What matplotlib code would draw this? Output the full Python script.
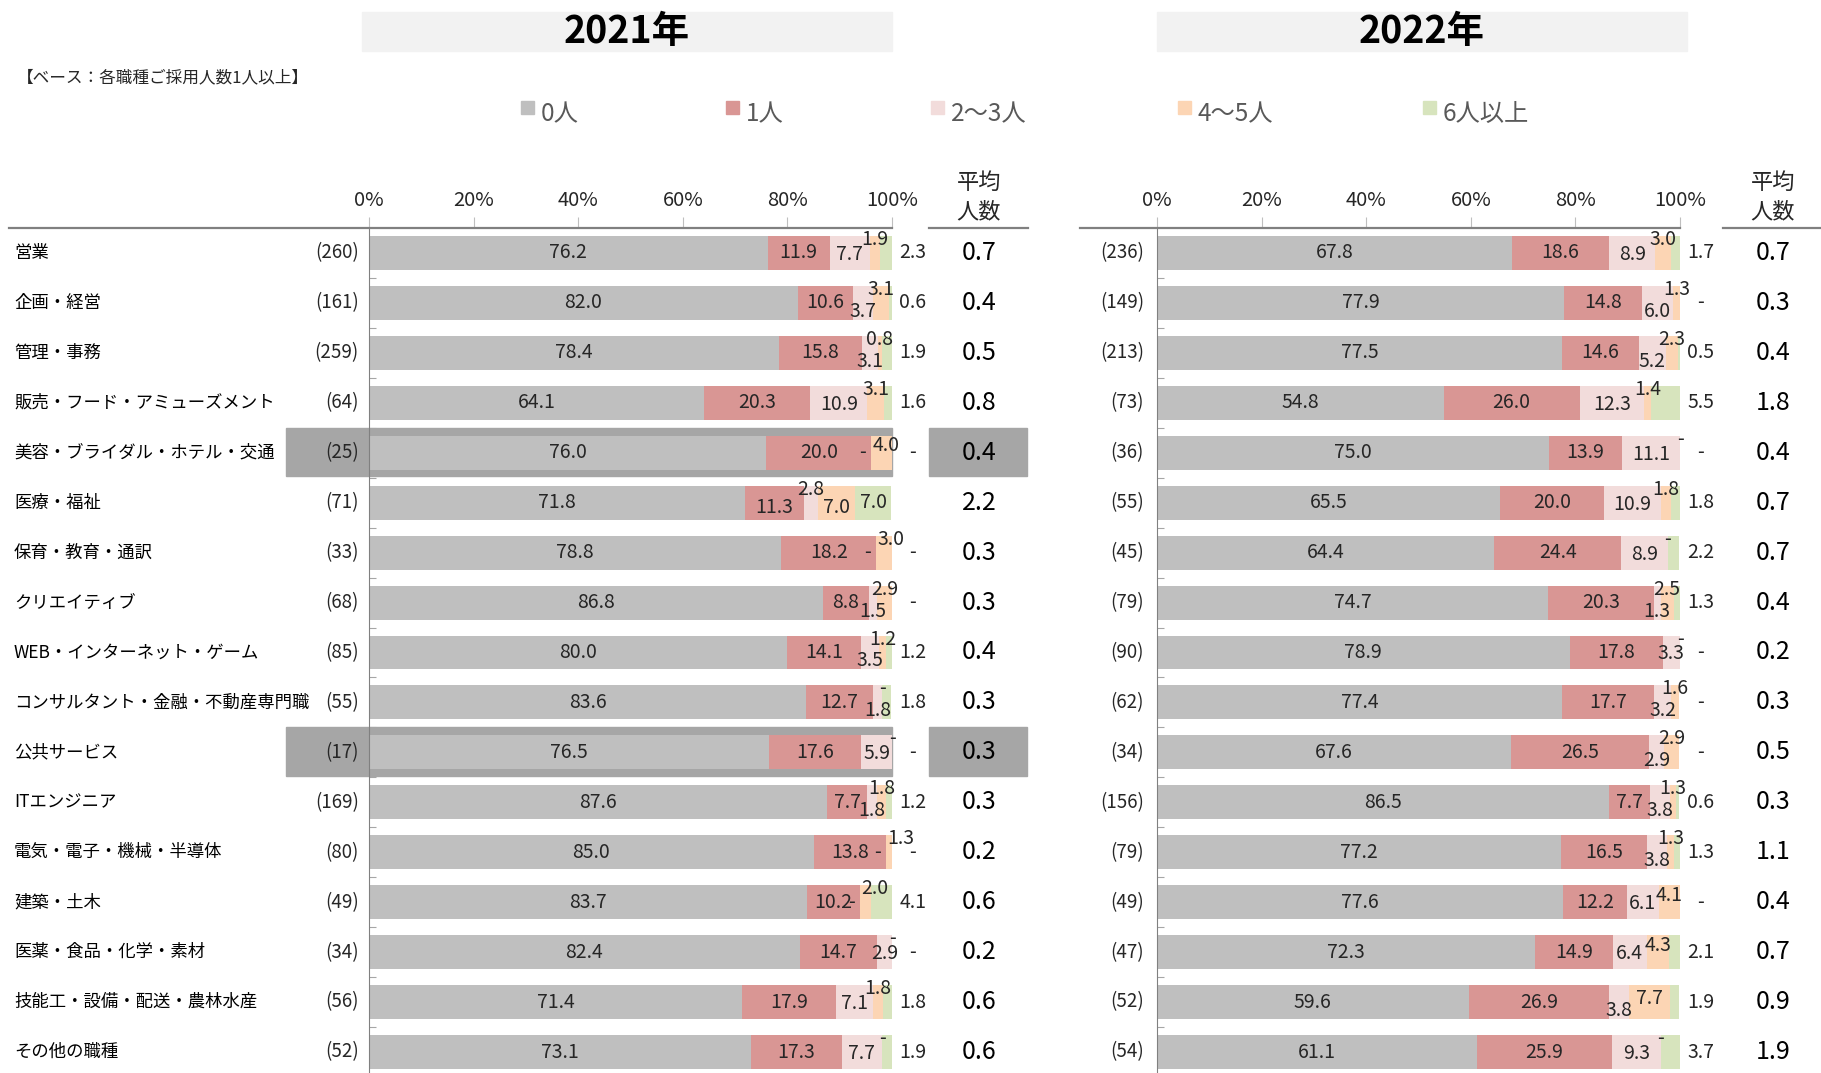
import matplotlib
matplotlib.use("Agg")
import matplotlib.pyplot as plt
import matplotlib.transforms as mtransforms
from matplotlib.patches import Rectangle
from matplotlib.lines import Line2D

plt.rcParams['font.family'] = ['Noto Sans CJK JP', 'DejaVu Sans']

categories = ["営業", "企画・経営", "管理・事務", "販売・フード・アミューズメント",
              "美容・ブライダル・ホテル・交通", "医療・福祉", "保育・教育・通訳",
              "クリエイティブ", "WEB・インターネット・ゲーム",
              "コンサルタント・金融・不動産専門職", "公共サービス", "ITエンジニア",
              "電気・電子・機械・半導体", "建築・土木", "医薬・食品・化学・素材",
              "技能工・設備・配送・農林水産", "その他の職種"]
segments = ["0人", "1人", "2〜3人", "4〜5人", "6人以上"]
colors = ["#bfbfbf", "#d99694", "#f2dcdb", "#fcd5b4", "#d7e4bd"]

# 2021年
n_2021 = [260, 161, 259, 64, 25, 71, 33, 68, 85, 55, 17, 169, 80, 49, 34, 56, 52]
p0_2021 = [76.2, 82.0, 78.4, 64.1, 76.0, 71.8, 78.8, 86.8, 80.0, 83.6, 76.5, 87.6, 85.0, 83.7, 82.4, 71.4, 73.1]
p1_2021 = [11.9, 10.6, 15.8, 20.3, 20.0, 11.3, 18.2, 8.8, 14.1, 12.7, 17.6, 7.7, 13.8, 10.2, 14.7, 17.9, 17.3]
p23_2021 = [7.7, 3.7, 3.1, 10.9, 0, 2.8, 0, 1.5, 3.5, 1.8, 5.9, 1.8, 0, 0, 2.9, 7.1, 7.7]
p45_2021 = [1.9, 3.1, 0.8, 3.1, 4.0, 7.0, 3.0, 2.9, 1.2, 0, 0, 1.8, 1.3, 2.0, 0, 1.8, 0]
p6_2021 = [2.3, 0.6, 1.9, 1.6, 0, 7.0, 0, 0, 1.2, 1.8, 0, 1.2, 0, 4.1, 0, 1.8, 1.9]
avg_2021 = [0.7, 0.4, 0.5, 0.8, 0.4, 2.2, 0.3, 0.3, 0.4, 0.3, 0.3, 0.3, 0.2, 0.6, 0.2, 0.6, 0.6]
marked_2021 = ["美容・ブライダル・ホテル・交通", "公共サービス"]

# 2022年
n_2022 = [236, 149, 213, 73, 36, 55, 45, 79, 90, 62, 34, 156, 79, 49, 47, 52, 54]
p0_2022 = [67.8, 77.9, 77.5, 54.8, 75.0, 65.5, 64.4, 74.7, 78.9, 77.4, 67.6, 86.5, 77.2, 77.6, 72.3, 59.6, 61.1]
p1_2022 = [18.6, 14.8, 14.6, 26.0, 13.9, 20.0, 24.4, 20.3, 17.8, 17.7, 26.5, 7.7, 16.5, 12.2, 14.9, 26.9, 25.9]
p23_2022 = [8.9, 6.0, 5.2, 12.3, 11.1, 10.9, 8.9, 1.3, 3.3, 3.2, 2.9, 3.8, 3.8, 6.1, 6.4, 3.8, 9.3]
p45_2022 = [3.0, 1.3, 2.3, 1.4, 0, 1.8, 0, 2.5, 0, 1.6, 2.9, 1.3, 1.3, 4.1, 4.3, 7.7, 0]
p6_2022 = [1.7, 0, 0.5, 5.5, 0, 1.8, 2.2, 1.3, 0, 0, 0, 0.6, 1.3, 0, 2.1, 1.9, 3.7]
avg_2022 = [0.7, 0.3, 0.4, 1.8, 0.4, 0.7, 0.7, 0.4, 0.2, 0.3, 0.5, 0.3, 1.1, 0.4, 0.7, 0.9, 1.9]

W, H = 1821, 1073
fig = plt.figure(figsize=(W / 100, H / 100), dpi=100)


def fx(px):
    return px / W


def fy(py):
    return 1 - py / H


def fmt(v):
    return "-" if v == 0 else f"{v:.1f}"


TXT = "#262626"
LINE = "#808080"
MARK = "#a6a6a6"
FS = 14


def draw_panel(left_px, series, n, avg, n_right_px, avg_px, line_from_px, marked=()):
    ax = fig.add_axes([fx(left_px), 0, fx(523), fy(228)])
    rows = list(range(len(categories)))
    trans = mtransforms.blended_transform_factory(fig.transFigure, ax.transData)

    # 強調する行の背景
    for i, c in enumerate(categories):
        if c in marked:
            ax.add_patch(Rectangle((fx(286), i - 0.5), fx(left_px + 523) - fx(286), 0.97,
                                   transform=trans, color=MARK, clip_on=False, zorder=0.5))
            ax.add_patch(Rectangle((fx(929), i - 0.5), fx(98), 0.97,
                                   transform=trans, color=MARK, clip_on=False, zorder=0.5))

    starts = [0.0] * len(rows)
    for k, vals in enumerate(series):
        ax.barh(rows, vals, left=starts, height=0.68, color=colors[k], zorder=2)
        starts = [s + v for s, v in zip(starts, vals)]

    # 数値ラベル
    for i in rows:
        v = [s[i] for s in series]
        cum = [0.0]
        for x in v:
            cum.append(cum[-1] + x)
        crowded = v[4] >= 6

        def put(x, y, s, ha="center"):
            ax.text(x, y, s, ha=ha, va="center", fontsize=FS, color=TXT,
                    zorder=5, clip_on=False)

        put((cum[0] + cum[1]) / 2, i, fmt(v[0]))
        put((cum[1] + cum[2]) / 2, i + (0.1 if crowded else 0.0), fmt(v[1]))
        # 2〜3人
        if v[2] == 0:
            put(cum[2] - 1.0, i, "-", ha="right")
        else:
            if crowded:
                dy = -0.27
            elif v[2] >= 6.1 or (v[3] == 0 and v[4] == 0):
                dy = 0.03
            else:
                dy = 0.17
            put((cum[2] + cum[3]) / 2, i + dy, fmt(v[2]))
        # 4〜5人
        if v[3] == 0:
            put(cum[3], i - 0.27, "-")
        else:
            if crowded:
                dy = 0.1
            elif v[3] >= 5:
                dy = -0.08
            elif v[3] >= 4:
                dy = -0.14
            else:
                dy = -0.27
            if v[2] == 0:
                put(cum[3] + 0.2, i + dy, fmt(v[3]), ha="left")
            else:
                put((cum[3] + cum[4]) / 2, i + dy, fmt(v[3]))
        # 6人以上
        if crowded:
            put((cum[4] + cum[5]) / 2, i, fmt(v[4]))
        else:
            put(104, i, fmt(v[4]))

        ax.text(fx(n_right_px), i, f"({n[i]})", transform=trans, ha="right",
                va="center", fontsize=13.5, color=TXT)
        ax.text(fx(avg_px), i, f"{avg[i]:.1f}", transform=trans, ha="center",
                va="center", fontsize=18, color="black")

    ax.set_xlim(0, 100)
    ax.set_ylim(16.42, -0.5)
    ax.xaxis.tick_top()
    ax.set_xticks(range(0, 101, 20))
    ax.set_xticklabels([f"{t}%" for t in range(0, 101, 20)], fontsize=14.5, color=TXT)
    ax.tick_params(axis="x", length=8, width=0.8, color="#bfbfbf", pad=4)
    ax.set_yticks([i + 0.5 for i in rows[:-1]])
    ax.set_yticklabels([])
    ax.tick_params(axis="y", direction="in", length=5, width=0.8, color="#a6a6a6")
    for side in ["top", "right", "bottom"]:
        ax.spines[side].set_visible(False)
    ax.spines["left"].set_color(LINE)
    ax.spines["left"].set_linewidth(0.8)
    ax.patch.set_alpha(0)

    # 上側の罫線
    fig.add_artist(Line2D([fx(line_from_px), fx(left_px + 523)], [fy(228), fy(228)],
                          color=LINE, lw=1.6))
    fig.add_artist(Line2D([fx(avg_px - 50), fx(avg_px + 49)], [fy(228), fy(228)],
                          color=LINE, lw=1.6))
    fig.text(fx(avg_px), fy(182), "平均", ha="center", va="center", fontsize=16, color=TXT)
    fig.text(fx(avg_px), fy(212), "人数", ha="center", va="center", fontsize=16, color=TXT)
    return ax


ax1 = draw_panel(369, [p0_2021, p1_2021, p23_2021, p45_2021, p6_2021], n_2021, avg_2021,
                 359, 979, 9, marked_2021)
ax2 = draw_panel(1157, [p0_2022, p1_2022, p23_2022, p45_2022, p6_2022], n_2022, avg_2022,
                 1144, 1773, 1080)

# 職種名
trans1 = mtransforms.blended_transform_factory(fig.transFigure, ax1.transData)
for i, c in enumerate(categories):
    ax1.text(fx(14), i, c, transform=trans1, ha="left", va="center",
             fontsize=12.5, color="black")

# 年の見出し
for x0, title in [(362, "2021年"), (1157, "2022年")]:
    fig.add_artist(Rectangle((fx(x0), fy(51)), fx(530), fy(12) - fy(51),
                             transform=fig.transFigure, color="#f2f2f2", zorder=0))
    fig.text(fx(x0 + 265), fy(32), title, ha="center", va="center",
             fontsize=27, fontweight="bold", color="black")

fig.text(fx(17), fy(78), "【ベース：各職種ご採用人数1人以上】", ha="left", va="center",
         fontsize=12, color=TXT)

# 凡例
legend_x = [521, 726, 931, 1178, 1423]
for x0, lab, col in zip(legend_x, segments, colors):
    fig.add_artist(Rectangle((fx(x0), fy(114)), fx(13), fy(101) - fy(114),
                             transform=fig.transFigure, color=col))
    fig.text(fx(x0 + 20), fy(114), lab, ha="left", va="center",
             fontsize=17.5, color="#595959")

fig.savefig("out.png", dpi=100)
